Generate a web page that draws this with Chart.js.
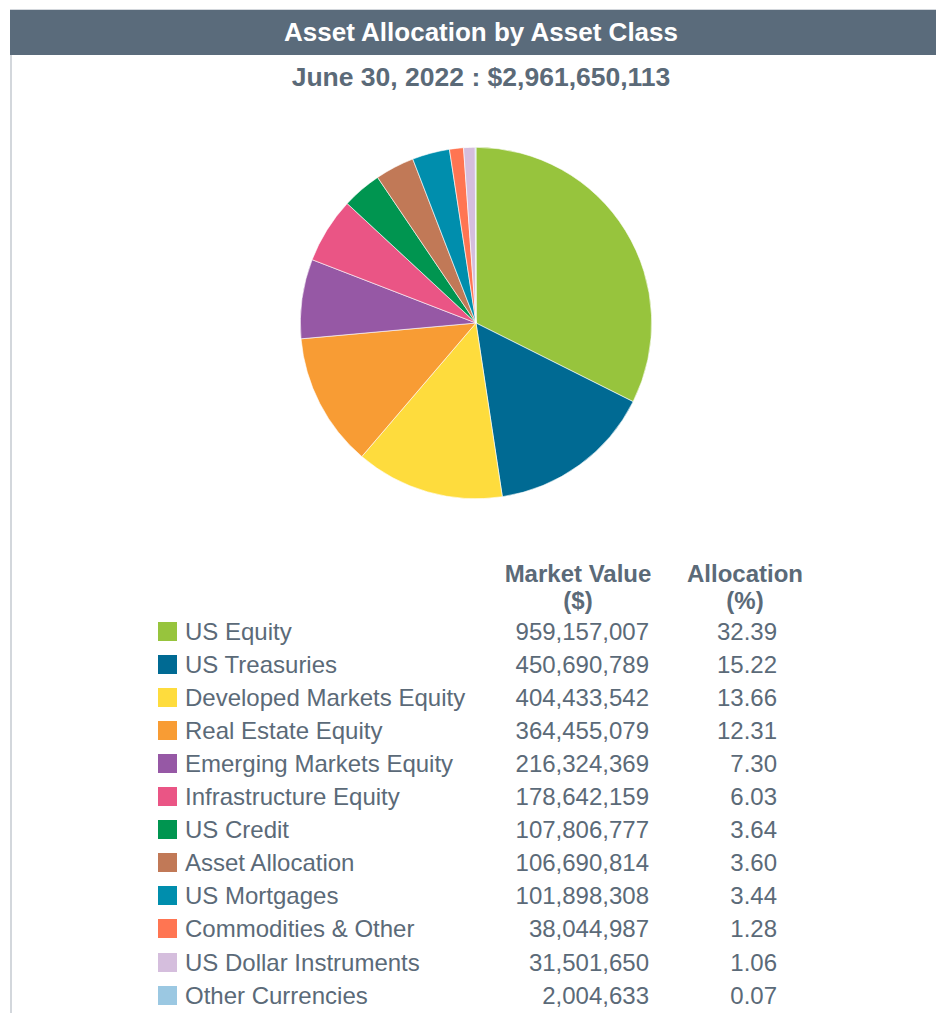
<!DOCTYPE html>
<html>
<head>
<meta charset="utf-8">
<script src="https://cdn.jsdelivr.net/npm/chart.js@4"></script>
<style>
  body { margin: 0; width: 936px; height: 1013px; overflow: hidden; background: #fff;
         font-family: 'Liberation Sans', Arial, sans-serif; color: #5b6a78; }
  .frame { position: absolute; left: 10px; top: 9px; width: 942px; height: 1010px;
           border-left: 2px solid #d3d7dc; border-top: 1px solid #d3d7dc; }
  .title { position: absolute; left: 10px; top: 10px; width: 942px; height: 45px; background: #5a6b7b;
           color: #fff; font-weight: bold; font-size: 26px; line-height: 45px; text-align: center; }
  .sub { position: absolute; left: 10px; top: 61px; width: 942px; text-align: center;
         font-weight: bold; font-size: 26.5px; line-height: 32px; }
  #pie { position: absolute; left: 300px; top: 147px; }
  .colhead { position: absolute; top: 560px; font-weight: bold; font-size: 24px; line-height: 27px; text-align: center; }
  .row { position: absolute; left: 0; height: 33px; width: 936px; font-size: 24px; line-height: 33px; }
  .row .sw { position: absolute; left: 158px; top: 7px; width: 19px; height: 19px; }
  .row .nm { position: absolute; left: 185px; }
  .row .mv { position: absolute; right: 287px; }
  .row .al { position: absolute; right: 159px; }
</style>
</head>
<body>
<div class="frame"></div>
<div class="title">Asset Allocation by Asset Class</div>
<div class="sub">June 30, 2022 : $2,961,650,113</div>
<canvas id="pie" width="352" height="352"></canvas>
<div class="colhead" style="left:498px;width:160px">Market Value<br>($)</div>
<div class="colhead" style="left:675px;width:140px">Allocation<br>(%)</div>
<div id="table"></div>
<script>
// dados
const classes = ['US Equity', 'US Treasuries', 'Developed Markets Equity', 'Real Estate Equity',
  'Emerging Markets Equity', 'Infrastructure Equity', 'US Credit', 'Asset Allocation',
  'US Mortgages', 'Commodities & Other', 'US Dollar Instruments', 'Other Currencies']
const marketValues = [959157007, 450690789, 404433542, 364455079, 216324369, 178642159,
  107806777, 106690814, 101898308, 38044987, 31501650, 2004633]
const allocations = [32.39, 15.22, 13.66, 12.31, 7.30, 6.03, 3.64, 3.60, 3.44, 1.28, 1.06, 0.07]
const colors = ['#97c43d', '#006a93', '#fedc3d', '#f89c34', '#9658a5', '#ea5585',
  '#009550', '#c17957', '#008ead', '#ff7552', '#d5bedd', '#9bc8e2']

// tabela
const table = document.getElementById('table')
classes.forEach((name, i) => {
  const row = document.createElement('div')
  row.className = 'row'
  row.style.top = (614.5 + i * 33.1) + 'px'
  row.innerHTML = `<span class="sw" style="background:${colors[i]}"></span>` +
    `<span class="nm">${name.replace('&', '&amp;')}</span>` +
    `<span class="mv">${marketValues[i].toLocaleString('en-US')}</span>` +
    `<span class="al">${allocations[i].toFixed(2)}</span>`
  table.appendChild(row)
})

// pizza
new Chart(document.getElementById('pie'), {
  type: 'pie',
  data: {
    labels: classes,
    datasets: [{
      data: marketValues,
      backgroundColor: colors,
      borderColor: '#ffffff',
      borderWidth: 0.6
    }]
  },
  options: {
    responsive: false,
    animation: false,
    layout: { padding: 0 },
    plugins: { legend: { display: false }, tooltip: { enabled: false } }
  }
})
</script>
</body>
</html>
